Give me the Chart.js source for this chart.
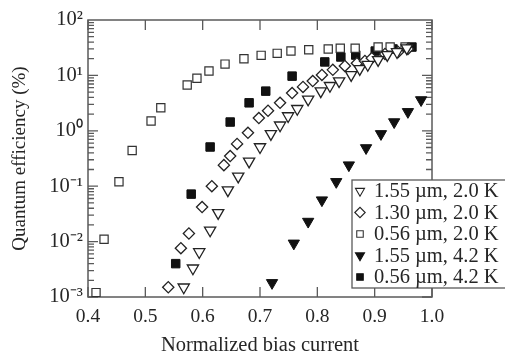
<!DOCTYPE html>
<html>
<head>
<meta charset="utf-8">
<script src="https://cdn.jsdelivr.net/npm/chart.js@4.4.0/dist/chart.umd.min.js"></script>
<style>
  html, body { margin: 0; padding: 0; background: #fff; }
</style>
</head>
<body>
<canvas id="qe" width="505" height="358"></canvas>
<script>
// legend labels, in legend order
const seriesLabels = ['1.55 µm, 2.0 K', '1.30 µm, 2.0 K', '0.56 µm, 2.0 K', '1.55 µm, 4.2 K', '0.56 µm, 4.2 K'];

// 1.55 um, 2.0 K (open down triangles)
const tri155cold_x = [0.567, 0.583, 0.594, 0.613, 0.627, 0.644, 0.662, 0.681, 0.700, 0.719, 0.735, 0.749, 0.765, 0.784, 0.806, 0.822, 0.838, 0.859, 0.874, 0.888, 0.906, 0.922, 0.939, 0.956];
const tri155cold_y = [0.0015, 0.0033, 0.0065, 0.016, 0.033, 0.085, 0.15, 0.28, 0.51, 0.88, 1.26, 1.85, 2.5, 3.7, 5.2, 6.5, 7.9, 10.2, 13.1, 15.6, 19.1, 23.5, 26.5, 31];

// 1.30 um, 2.0 K (open diamonds)
const dia130cold_x = [0.540, 0.562, 0.576, 0.599, 0.616, 0.637, 0.648, 0.660, 0.679, 0.698, 0.714, 0.735, 0.756, 0.775, 0.792, 0.808, 0.827, 0.848, 0.869, 0.883, 0.895, 0.918, 0.941, 0.958];
const dia130cold_y = [0.0015, 0.0076, 0.014, 0.042, 0.10, 0.24, 0.35, 0.58, 0.92, 1.7, 2.3, 3.2, 4.8, 6.2, 7.9, 10.2, 12.6, 14.8, 16.6, 18.2, 20.5, 24.4, 26.5, 30];

// 0.56 um, 2.0 K (open squares)
const sq056cold_x = [0.414, 0.428, 0.454, 0.477, 0.510, 0.527, 0.573, 0.590, 0.611, 0.639, 0.672, 0.702, 0.730, 0.754, 0.785, 0.819, 0.840, 0.866, 0.906, 0.927, 0.953];
const sq056cold_y = [0.0012, 0.011, 0.12, 0.44, 1.5, 2.6, 6.7, 8.9, 12, 16, 20, 23, 25, 27.5, 29, 30, 31, 31, 32.5, 32.5, 32.5];

// 1.55 um, 4.2 K (filled down triangles)
const tri155warm_x = [0.721, 0.759, 0.784, 0.808, 0.833, 0.855, 0.885, 0.911, 0.934, 0.958, 0.981];
const tri155warm_y = [0.0018, 0.0093, 0.023, 0.056, 0.12, 0.24, 0.49, 0.88, 1.44, 2.2, 3.6];

// 0.56 um, 4.2 K (filled squares)
const sq056warm_x = [0.553, 0.580, 0.613, 0.648, 0.681, 0.710, 0.756, 0.813, 0.841, 0.867, 0.901, 0.932, 0.965];
const sq056warm_y = [0.0040, 0.072, 0.51, 1.44, 3.2, 5.2, 9.7, 17.5, 21.5, 23.3, 27.5, 30, 32.5];

// ticks
const xTickValues = [0.4, 0.5, 0.6, 0.7, 0.8, 0.9, 1.0];
const xTickLabels = ['0.4', '0.5', '0.6', '0.7', '0.8', '0.9', '1.0'];
const yTickValues = [1e-3, 1e-2, 1e-1, 1, 10, 100];
const yTickLabels = ['10⁻³', '10⁻²', '10⁻¹', '10⁰', '10¹', '10²'];

const FONT = 'Liberation Serif';
const TEXT = '#262626';
const AXIS = '#5a5a5a';

const pts = (xs, ys) => xs.map((x, i) => ({ x: x, y: ys[i] }));

const datasets = [
  { label: seriesLabels[0], data: pts(tri155cold_x, tri155cold_y), pointStyle: 'triangle', rotation: 180, pointRadius: 6.5, backgroundColor: '#fff', borderColor: '#222', borderWidth: 1.3 },
  { label: seriesLabels[1], data: pts(dia130cold_x, dia130cold_y), pointStyle: 'rectRot', pointRadius: 5.6, backgroundColor: '#fff', borderColor: '#222', borderWidth: 1.3 },
  { label: seriesLabels[2], data: pts(sq056cold_x, sq056cold_y), pointStyle: 'rect', pointRadius: 5.8, backgroundColor: '#fff', borderColor: '#333', borderWidth: 1.2 },
  { label: seriesLabels[3], data: pts(tri155warm_x, tri155warm_y), pointStyle: 'triangle', rotation: 180, pointRadius: 6.5, backgroundColor: '#111', borderColor: '#111', borderWidth: 1 },
  { label: seriesLabels[4], data: pts(sq056warm_x, sq056warm_y), pointStyle: 'rect', pointRadius: 6, backgroundColor: '#111', borderColor: '#111', borderWidth: 1 }
];

// frame and inward tick marks
const frame = {
  id: 'frame',
  beforeDatasetsDraw(chart) {
    const { ctx, chartArea: a, scales: { x, y } } = chart;
    ctx.save();
    ctx.strokeStyle = AXIS;
    ctx.lineWidth = 1.5;
    ctx.strokeRect(a.left, a.top, a.right - a.left, a.bottom - a.top);
    ctx.lineWidth = 1.3;
    ctx.beginPath();
    xTickValues.forEach(v => {
      const px = x.getPixelForValue(v);
      ctx.moveTo(px, a.bottom); ctx.lineTo(px, a.bottom - 10);
      ctx.moveTo(px, a.top); ctx.lineTo(px, a.top + 10);
    });
    for (let e = -3; e < 2; e++) {
      for (let m = 1; m < 10; m++) {
        const py = y.getPixelForValue(m * Math.pow(10, e));
        const len = m === 1 ? 10 : 6;
        ctx.moveTo(a.left, py); ctx.lineTo(a.left + len, py);
        ctx.moveTo(a.right, py); ctx.lineTo(a.right - len, py);
      }
    }
    ctx.stroke();
    ctx.restore();
  }
};

// boxed legend inside the lower right corner
const boxLegend = {
  id: 'boxLegend',
  afterDraw(chart) {
    const ctx = chart.ctx;
    const left = 352, top = 180, rowH = 21.5;
    ctx.save();
    ctx.fillStyle = '#fff';
    ctx.fillRect(left, top, 160, 108);
    ctx.strokeStyle = AXIS;
    ctx.lineWidth = 1.3;
    ctx.strokeRect(left, top, 160, 108);
    ctx.font = '20.5px "' + FONT + '"';
    ctx.textBaseline = 'middle';
    chart.data.datasets.forEach((ds, i) => {
      const cy = top + 11 + i * rowH;
      ctx.fillStyle = ds.backgroundColor;
      ctx.strokeStyle = ds.borderColor;
      ctx.lineWidth = 1.1;
      Chart.helpers.drawPoint(ctx, {
        pointStyle: ds.pointStyle,
        rotation: ds.rotation || 0,
        radius: ds.pointStyle === 'rect' ? 4.6 : 5.2,
        borderWidth: 1.1
      }, left + 8, cy);
      ctx.fillStyle = TEXT;
      ctx.fillText(ds.label, left + 22, cy + 1);
    });
    ctx.restore();
  }
};

new Chart(document.getElementById('qe'), {
  type: 'scatter',
  data: { datasets: datasets },
  options: {
    responsive: false,
    animation: false,
    devicePixelRatio: 1,
    layout: { padding: { top: 20, right: 73, left: 0, bottom: 0 } },
    plugins: { legend: { display: false }, tooltip: { enabled: false } },
    scales: {
      x: {
        type: 'linear',
        min: 0.4,
        max: 1.0,
        afterBuildTicks: s => { s.ticks = xTickValues.map(v => ({ value: v })); },
        afterFit: s => { s.height = 61; },
        grid: { display: false, drawTicks: false },
        border: { display: false },
        ticks: {
          padding: 8,
          color: TEXT,
          font: { family: FONT, size: 19.5 },
          callback: (v, i) => xTickLabels[i]
        },
        title: { display: true, text: 'Normalized bias current', color: TEXT, font: { family: FONT, size: 20.5 }, padding: 0 }
      },
      y: {
        type: 'logarithmic',
        min: 1e-3,
        max: 1e2,
        afterBuildTicks: s => { s.ticks = yTickValues.map(v => ({ value: v })); },
        afterFit: s => { s.width = 88; },
        grid: { display: false, drawTicks: false },
        border: { display: false },
        ticks: {
          padding: 5,
          color: TEXT,
          font: { family: FONT, size: 20.5 },
          callback: (v, i) => yTickLabels[i]
        },
        title: { display: true, text: 'Quantum efficiency (%)', color: TEXT, font: { family: FONT, size: 19 }, padding: { top: 9, bottom: 0 } }
      }
    }
  },
  plugins: [frame, boxLegend]
});
</script>
</body>
</html>
